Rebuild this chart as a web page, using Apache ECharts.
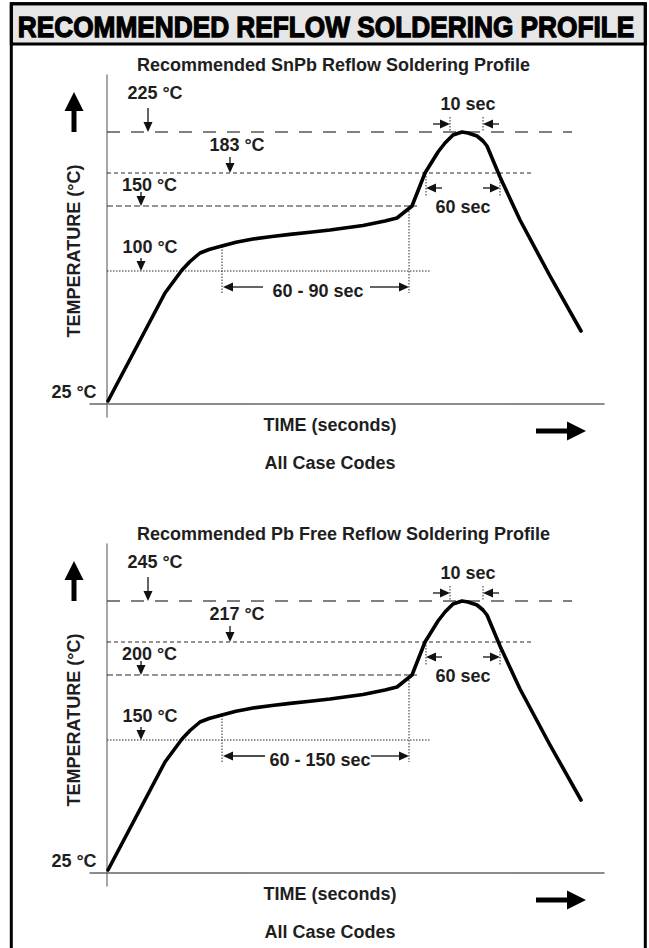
<!DOCTYPE html>
<html><head><meta charset="utf-8">
<script src="https://cdn.jsdelivr.net/npm/echarts@6/dist/echarts.min.js"></script>
<style>html,body{margin:0;padding:0;background:#fff}#c{width:649px;height:948px}</style>
</head><body><div id="c"></div>
<script>
// Schematic (not-to-scale) units: x = time, y = height above the 25 °C baseline
const profileTime = [1, 58, 75, 83, 93, 102, 113, 129, 146, 165, 183, 203, 223, 256, 278, 290, 305, 318, 331, 338, 346, 355, 361, 370, 376, 380, 393, 413, 443, 474];
const profileTemp = [3, 111, 134, 142.5, 151, 154.5, 157.5, 161.7, 165, 167.5, 169.6, 171.8, 174, 178.5, 183, 186, 198, 231, 252, 261, 269, 272, 271, 268, 263, 258, 227, 184, 128, 73];

const snpbLevelLabels = ['225 °C', '183 °C', '150 °C', '100 °C'];
const pbfreeLevelLabels = ['245 °C', '217 °C', '200 °C', '150 °C'];
const baseLabel = '25 °C';
const refLevel = [272, 231, 198, 133];
const refEnd = [465, 425, 310, 324];
const levelArrowX = [41, 123, 34, 34];
const levelArrowTop = [296, 247, 212, 146];
const levelLabelX = [48, 130, 42.5, 43];
const levelLabelY = [311, 259, 219, 157];
const baseLabelPos = [-33, 12];

const markerSegments = [[115, 157.5, 115, 111], [302, 196, 302, 111], [343, 287, 343, 272], [376, 287, 376, 272], [319, 231, 319, 208], [393, 231, 393, 208]];
const peakArrows = [[326, 280, 343, 280], [392, 280, 376, 280]];
const liquidusArrows = [[335, 216, 319, 216], [376, 216, 393, 216]];
const peakLabel = '10 sec', peakLabelPos = [361, 300];
const liquidusLabel = '60 sec', liquidusLabelPos = [356, 197];
const soakArrowsSnPb = [[156, 117, 116, 117], [263, 117, 302, 117]];
const soakArrowsPbFree = [[158, 117, 116, 117], [264, 117, 302, 117]];
const soakLabelSnPb = '60 - 90 sec', soakLabelPbFree = '60 - 150 sec';
const soakLabelPosSnPb = [211, 113], soakLabelPosPbFree = [213, 113];
const axisArrows = [[-33, 272, -33, 312], [429, -27, 479, -27]];

const headerText = 'RECOMMENDED REFLOW SOLDERING PROFILE';
const chartTitles = ['Recommended SnPb Reflow Soldering Profile', 'Recommended Pb Free Reflow Soldering Profile'];
const xName = 'TIME (seconds)', yName = 'TEMPERATURE (°C)', subNote = 'All Case Codes';

const FONT = '"Liberation Sans", Arial, Helvetica, sans-serif';
const TXT = '#1e1e1e';
const refStyles = [
  { color: '#555', width: 1.3, type: [13, 11] },
  { color: '#2a2a2a', width: 1.2, type: [4, 3] },
  { color: '#2a2a2a', width: 1.2, type: [6, 3] },
  { color: '#2a2a2a', width: 1.2, type: [1.5, 1.5] }
];

function arrowRender(headLen, headW, shaftW, color) {
  return function (params, api) {
    const a = api.coord([api.value(0), api.value(1)]);
    const b = api.coord([api.value(2), api.value(3)]);
    const dx = b[0] - a[0], dy = b[1] - a[1];
    const L = Math.hypot(dx, dy) || 1;
    const ux = dx / L, uy = dy / L;
    const bx = b[0] - ux * headLen, by = b[1] - uy * headLen;
    const nx = -uy * headW / 2, ny = ux * headW / 2;
    return { type: 'group', children: [
      { type: 'line', shape: { x1: a[0], y1: a[1], x2: bx + ux, y2: by + uy }, style: { stroke: color, lineWidth: shaftW } },
      { type: 'polygon', shape: { points: [[b[0], b[1]], [bx + nx, by + ny], [bx - nx, by - ny]] }, style: { fill: color } }
    ] };
  };
}
function segmentRender(color, width, dash) {
  return function (params, api) {
    const a = api.coord([api.value(0), api.value(1)]);
    const b = api.coord([api.value(2), api.value(3)]);
    return { type: 'line', shape: { x1: a[0], y1: a[1], x2: b[0], y2: b[1] }, style: { stroke: color, lineWidth: width, lineDash: dash } };
  };
}

function buildSeries(gi, levelLabels, soakArrows, soakLabel, soakLabelPos) {
  const ax = { xAxisIndex: gi, yAxisIndex: gi };
  const s = [];
  refLevel.forEach((lv, i) => {
    s.push(Object.assign({ type: 'line', symbol: 'none', clip: false, silent: true, z: 2,
      data: [[0, lv], [refEnd[i], lv]],
      lineStyle: { color: refStyles[i].color, width: refStyles[i].width, type: refStyles[i].type } }, ax));
  });
  s.push(Object.assign({ type: 'custom', renderItem: segmentRender('#2a2a2a', 1, [1.5, 1.5]), data: markerSegments, z: 3, silent: true }, ax));
  s.push(Object.assign({ type: 'line', symbol: 'none', clip: false, silent: true, z: 5,
    data: profileTime.map((t, i) => [t, profileTemp[i]]),
    lineStyle: { color: '#000', width: 3.6, cap: 'round', join: 'round' } }, ax));
  const small = levelArrowX.map((x, i) => [x, levelArrowTop[i], x, refLevel[i]])
    .concat(peakArrows, liquidusArrows, soakArrows);
  s.push(Object.assign({ type: 'custom', renderItem: arrowRender(10, 9, 1.3, '#111'), data: small, z: 6, silent: true }, ax));
  s.push(Object.assign({ type: 'custom', renderItem: arrowRender(19, 19, 5, '#000'), data: axisArrows, z: 6, silent: true }, ax));
  const labels = levelLabels.map((t, i) => ({ name: t, value: [levelLabelX[i], levelLabelY[i]] }))
    .concat([
      { name: baseLabel, value: baseLabelPos },
      { name: peakLabel, value: peakLabelPos },
      { name: liquidusLabel, value: liquidusLabelPos },
      { name: soakLabel, value: soakLabelPos }
    ]);
  s.push(Object.assign({ type: 'scatter', symbolSize: 0, clip: false, silent: true, z: 7, data: labels,
    itemStyle: { color: TXT, opacity: 1 },
    label: { show: true, position: 'inside', formatter: '{b}', fontSize: 18, fontWeight: 'bold', fontFamily: FONT,
      color: TXT, opacity: 1, textBorderWidth: 0, textBorderColor: 'transparent' } }, ax));
  return s;
}

function axisPair(gi) {
  const base = { gridIndex: gi, type: 'value', axisTick: { show: false }, axisLabel: { show: false }, splitLine: { show: false } };
  return {
    x: Object.assign({}, base, { min: -17, max: 497, axisLine: { show: true, onZero: true, lineStyle: { color: '#666', width: 1.5 } } }),
    y: Object.assign({}, base, { min: -13, max: 329, axisLine: { show: true, onZero: true, lineStyle: { color: '#888', width: 1.5 } } })
  };
}
const a0 = axisPair(0), a1 = axisPair(1);

function txt(text, x, y, opts) {
  return Object.assign({ type: 'text', x: x, y: y, z: 50, silent: true,
    style: Object.assign({ text: text, fontSize: 18, fontWeight: 'bold', fontFamily: FONT, fill: TXT, align: 'center', verticalAlign: 'middle' }, opts && opts.style || {}) },
    opts && opts.el || {});
}

const chart = echarts.init(document.getElementById('c'), null, { renderer: 'svg' });
chart.setOption({
  animation: false,
  backgroundColor: '#fff',
  grid: [
    { left: 90, top: 75, width: 514, height: 342, outerBoundsMode: 'none' },
    { left: 90, top: 544, width: 514, height: 342, outerBoundsMode: 'none' }
  ],
  xAxis: [a0.x, a1.x],
  yAxis: [a0.y, a1.y],
  series: buildSeries(0, snpbLevelLabels, soakArrowsSnPb, soakLabelSnPb, soakLabelPosSnPb)
    .concat(buildSeries(1, pbfreeLevelLabels, soakArrowsPbFree, soakLabelPbFree, soakLabelPosPbFree)),
  graphic: [
    { type: 'rect', z: 40, silent: true, shape: { x: 11.3, y: 3.8, width: 634, height: 40.2 }, style: { fill: '#e6e6e6', stroke: '#000', lineWidth: 3 } },
    { type: 'rect', z: 60, silent: true, shape: { x: 11.3, y: 3.8, width: 634, height: 1000 }, style: { fill: 'none', stroke: '#000', lineWidth: 3 } },
    txt(headerText, 326, 26, { style: { fontSize: 30, fill: '#000', stroke: '#000', lineWidth: 1.3 }, el: { scaleX: 0.875 } }),
    txt(chartTitles[0], 137, 65, { style: { align: 'left' } }),
    txt(chartTitles[1], 137, 534, { style: { align: 'left' } }),
    txt(xName, 330, 425),
    txt(xName, 330, 894),
    txt(subNote, 330, 463),
    txt(subNote, 330, 932),
    txt(yName, 74, 251, { el: { rotation: Math.PI / 2 } }),
    txt(yName, 74, 720, { el: { rotation: Math.PI / 2 } })
  ]
});
</script></body></html>
